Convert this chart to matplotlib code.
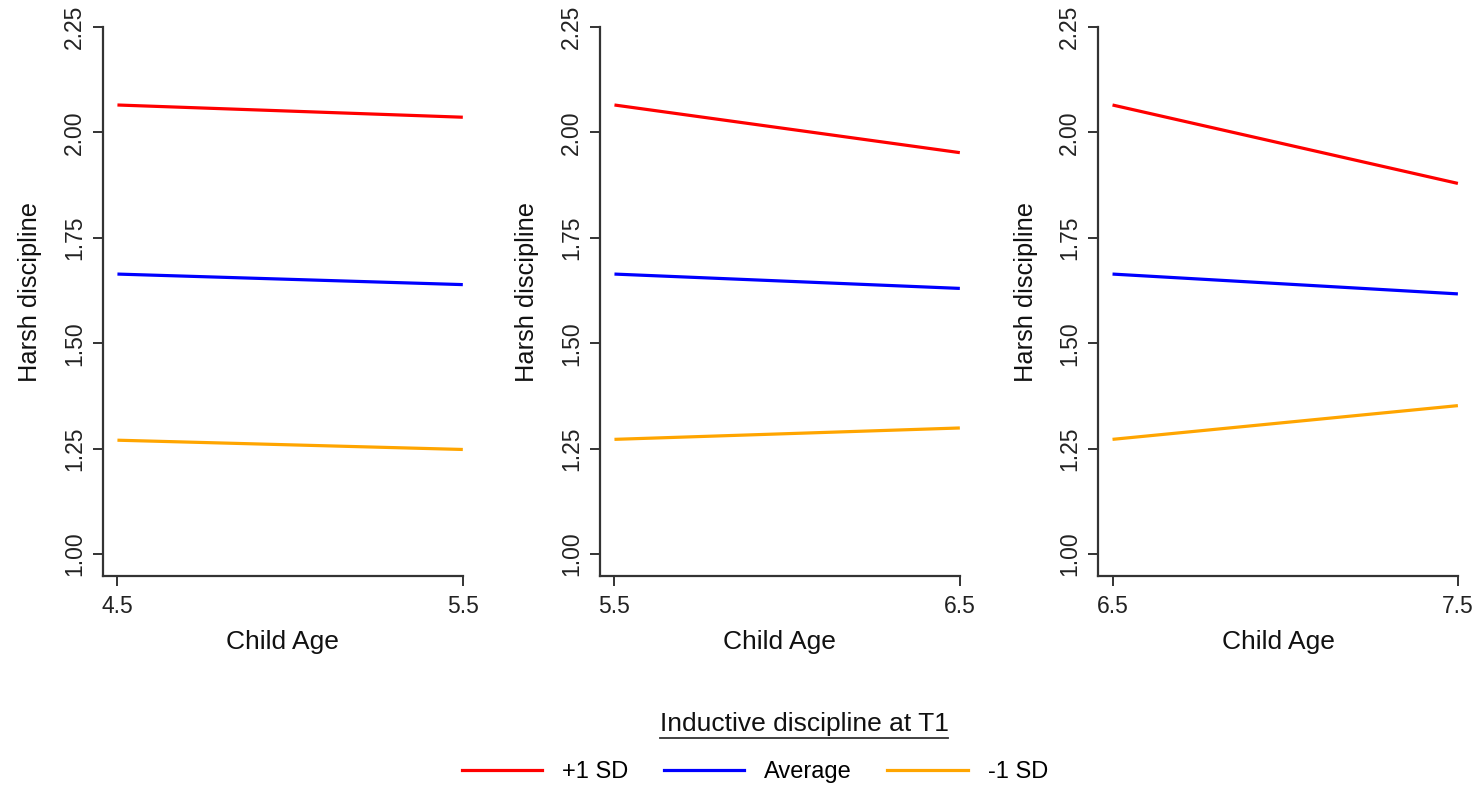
import matplotlib.pyplot as plt
from matplotlib.lines import Line2D

plt.rcParams['font.family'] = ['Liberation Sans', 'DejaVu Sans']

# age windows for the three panels
age_ranges = [(4.5, 5.5), (5.5, 6.5), (6.5, 7.5)]
age_labels = [('4.5', '5.5'), ('5.5', '6.5'), ('6.5', '7.5')]

# harsh discipline at start / end of each window
plus_sd = [(2.065, 2.036), (2.065, 1.952), (2.065, 1.879)]
average = [(1.664, 1.639), (1.664, 1.630), (1.664, 1.617)]
minus_sd = [(1.270, 1.248), (1.272, 1.299), (1.272, 1.352)]

series_names = ['+1 SD', 'Average', '-1 SD']
series_colors = ['#ff0000', '#0000ff', '#ffa500']
yticks = [1.00, 1.25, 1.50, 1.75, 2.00, 2.25]

fig = plt.figure(figsize=(14.81, 7.94), dpi=100)
lefts = [0.0695, 0.4051, 0.7414]
w = 0.2430
bottom, h = 0.2746, 0.6914

for i in range(3):
    ax = fig.add_axes([lefts[i], bottom, w, h])
    x = list(age_ranges[i])
    for vals, c in zip([plus_sd, average, minus_sd], series_colors):
        ax.plot(x, vals[i], color=c, lw=2.3, clip_on=False, solid_capstyle='butt')
    ax.set_xlim(x[0] - 0.042, x[1])
    ax.set_ylim(0.948, 2.25)
    for s in ['top', 'right']:
        ax.spines[s].set_visible(False)
    for s in ['left', 'bottom']:
        ax.spines[s].set_color('#333333')
        ax.spines[s].set_linewidth(1.6)
    ax.set_xticks(x)
    ax.set_xticklabels(age_labels[i])
    ax.set_yticks(yticks)
    ax.set_yticklabels(['%.2f' % t for t in yticks], rotation=90, va='center')
    ax.tick_params(axis='both', length=7, width=1.4, color='#333333',
                   labelsize=16.5, labelcolor='#222222')
    ax.tick_params(axis='y', pad=5)
    ax.tick_params(axis='x', pad=7)
    ax.set_xlabel('Child Age', fontsize=19, labelpad=8, color='#111111')
    ax.set_ylabel('Harsh discipline', fontsize=18.3, color='#111111')
    ax.yaxis.set_label_coords(-0.168, 0.517)

# legend block at the bottom
fig.text(0.543, 1 - 724 / 794, 'Inductive discipline at T1', ha='center', va='center',
         fontsize=19, color='#111111')
fig.add_artist(Line2D([660 / 1481, 948 / 1481], [1 - 738 / 794, 1 - 738 / 794],
                      color='#333333', lw=1.3, transform=fig.transFigure))

handles = [Line2D([], [], color=c, lw=2.3) for c in series_colors]
fig.legend(handles, series_names, loc='center', bbox_to_anchor=(0.5098, 1 - 772 / 794),
           ncol=3, frameon=False, fontsize=17, handlelength=3.4, handletextpad=0.85,
           columnspacing=1.5)

fig.savefig('out.png', dpi=100)
